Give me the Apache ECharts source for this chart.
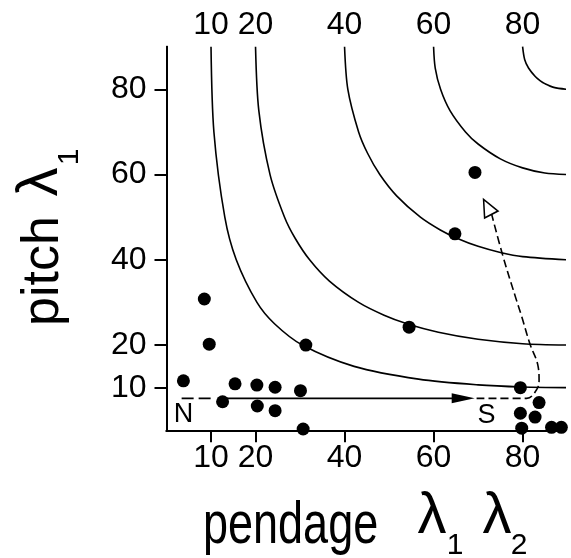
<!DOCTYPE html>
<html>
<head>
<meta charset="utf-8">
<script src="https://cdn.jsdelivr.net/npm/echarts@6/dist/echarts.min.js"></script>
<style>
html, body { margin: 0; padding: 0; background: #fff; }
#chart { width: 571px; height: 558px; }
</style>
</head>
<body>
<div id="chart"></div>
<script>
// tick values on both axes, and curve labels along the top
const tickValues = [10, 20, 40, 60, 80]
const topLabels = [10, 20, 40, 60, 80]

// contour curves [pendage, pitch], named by where they meet pitch = 90
const curve10 = [[10, 90], [10.65, 70], [13.1, 50], [15.67, 40], [20.32, 30], [24.26, 25], [30.51, 20], [42.14, 15], [56.63, 12], [70, 10.65], [80, 10.16], [90, 10]]
const curve20 = [[20, 90], [20.74, 75], [23.26, 60], [26.52, 50], [28.93, 45], [32.15, 40], [36.6, 35], [43.16, 30], [48.88, 27], [54.03, 25], [61.08, 23], [70, 21.35], [80, 20.32], [90, 20]]
const curve40 = [[40, 90], [40.74, 80], [43.16, 70], [45.17, 65], [47.92, 60], [51.7, 55], [57.04, 50], [61.51, 47], [65.38, 45], [70, 43.16], [75, 41.72], [80, 40.74], [90, 40]]
const curve60 = [[60, 90], [60.37, 85], [61.57, 80], [63.69, 75], [67.17, 70], [70, 67.17], [75, 63.69], [80, 61.57], [85, 60.37], [90, 60]]
const curve80 = [[80, 90], [80.46, 87], [81.33, 85], [82.84, 83], [83.98, 82], [85, 81.33], [87, 80.46], [90, 80]]

// measured stations
const pendage = [3.8, 8.5, 9.6, 12.6, 15.4, 20.3, 20.4, 24.4, 24.4, 30.1, 30.7, 31.3, 54.5, 64.8, 69.3, 79.5, 83.7, 79.5, 82.8, 79.8, 86.5, 88.7]
const pitch = [11.6, 30.8, 20.2, 6.7, 10.9, 10.6, 5.7, 10.1, 4.6, 9.3, 0.3, 20.0, 24.2, 46.1, 60.5, 10.0, 6.5, 4.0, 3.1, 0.5, 0.7, 0.7]

// N -> S trend and the dashed return path
const nsDashed = [[3.4, 7.5], [11, 7.5]]
const nsSolid = [[12.6, 7.5], [66, 7.5]]
const returnPath = [[69.66, 7.5], [80.9, 7.5], [83.1, 9.46], [83.7, 11.8], [83.5, 14.9], [81.6, 20.4], [79.8, 26.7], [78.6, 30.6], [75.6, 40.8], [73.0, 50.9]]
const solidHead = [66.65, 7.5]
const hollowHead = [72.1, 52.4]

const letters = ['N', 'S']
const letterPos = [[3.8, 3.8], [71.9, 3.4]]

const FONT = 'Liberation Sans, Arial, sans-serif'

const chart = echarts.init(document.getElementById('chart'))

const curveSeries = [curve10, curve20, curve40, curve60, curve80].map(c => ({
  type: 'line',
  data: c,
  smooth: 0.3,
  symbol: 'none',
  lineStyle: { color: '#000', width: 1.6, opacity: 1 },
  z: 2
}))

const option = {
  backgroundColor: '#fff',
  animation: false,
  grid: { left: 166.5, right: 7, top: 46.7, bottom: 127.7, outerBoundsMode: 'none', containLabel: false },
  xAxis: [
    {
      type: 'value', position: 'bottom', min: 0, max: 89.3,
      axisLine: { lineStyle: { color: '#000', width: 2 } },
      axisTick: { show: true, inside: false, length: 12, customValues: tickValues, lineStyle: { color: '#000', width: 2 } },
      axisLabel: { customValues: tickValues, fontSize: 32, color: '#000', fontFamily: FONT, margin: 12 },
      splitLine: { show: false }
    },
    {
      type: 'value', position: 'top', min: 0, max: 89.3,
      axisLine: { lineStyle: { color: '#000', width: 2 } },
      axisTick: { show: false },
      axisLabel: { customValues: topLabels, fontSize: 32, color: '#000', fontFamily: FONT, margin: 6 },
      splitLine: { show: false }
    }
  ],
  yAxis: [
    {
      type: 'value', position: 'left', min: 0, max: 90,
      axisLine: { lineStyle: { color: '#000', width: 2 } },
      axisTick: { show: true, inside: false, length: 12, customValues: tickValues, lineStyle: { color: '#000', width: 2 } },
      axisLabel: { customValues: tickValues, fontSize: 32, color: '#000', fontFamily: FONT, margin: 20 },
      splitLine: { show: false }
    },
    {
      type: 'value', position: 'right', min: 0, max: 90,
      axisLine: { show: true, lineStyle: { color: '#000', width: 2 } },
      axisTick: { show: false },
      axisLabel: { show: false },
      splitLine: { show: false }
    }
  ],
  series: [
    ...curveSeries,
    {
      type: 'line', data: nsDashed, symbol: 'none',
      lineStyle: { color: '#000', width: 1.6, type: [12, 5] }, z: 2
    },
    {
      type: 'line', data: nsSolid, symbol: 'none',
      lineStyle: { color: '#000', width: 1.6 }, z: 2
    },
    {
      type: 'line', data: returnPath, symbol: 'none', smooth: 0.4,
      lineStyle: { color: '#000', width: 1.6, type: [8, 4] }, z: 2
    },
    {
      type: 'scatter', data: [solidHead], symbol: 'triangle',
      symbolSize: [10, 23], symbolRotate: -90,
      itemStyle: { color: '#000', opacity: 1 }, z: 3
    },
    {
      type: 'scatter', data: [hollowHead], symbol: 'triangle',
      symbolSize: [15, 17], symbolRotate: 27,
      itemStyle: { color: '#fff', borderColor: '#000', borderWidth: 1.6, opacity: 1 }, z: 3
    },
    {
      type: 'scatter',
      data: pendage.map((x, i) => [x, pitch[i]]),
      symbolSize: 13,
      itemStyle: { color: '#000', opacity: 1 },
      z: 4
    },
    {
      type: 'scatter',
      data: letterPos.map((p, i) => ({ value: p, name: letters[i] })),
      symbolSize: 0,
      itemStyle: { opacity: 1 },
      label: {
        show: true, position: 'inside', formatter: '{b}',
        fontSize: 27, color: '#000', fontFamily: FONT
      },
      z: 4
    }
  ],
  graphic: [
    { type: 'text', x: 203, y: 526, scaleX: 0.75, style: { text: 'pendage', font: '60px ' + FONT, fill: '#000', textAlign: 'left', textVerticalAlign: 'middle' } },
    { type: 'text', x: 432, y: 517, style: { text: 'λ', font: '58px ' + FONT, fill: '#000', textAlign: 'center', textVerticalAlign: 'middle' } },
    { type: 'text', x: 455, y: 546, style: { text: '1', font: '30px ' + FONT, fill: '#000', textAlign: 'center', textVerticalAlign: 'middle' } },
    { type: 'text', x: 497, y: 517, style: { text: 'λ', font: '58px ' + FONT, fill: '#000', textAlign: 'center', textVerticalAlign: 'middle' } },
    { type: 'text', x: 519, y: 546, style: { text: '2', font: '30px ' + FONT, fill: '#000', textAlign: 'center', textVerticalAlign: 'middle' } },
    { type: 'text', x: 44, y: 271, rotation: Math.PI / 2, style: { text: 'pitch', font: '52px ' + FONT, fill: '#000', textAlign: 'center', textVerticalAlign: 'middle' } },
    { type: 'text', x: 41, y: 182, rotation: Math.PI / 2, style: { text: 'λ', font: '58px ' + FONT, fill: '#000', textAlign: 'center', textVerticalAlign: 'middle' } },
    { type: 'text', x: 70, y: 157, rotation: Math.PI / 2, style: { text: '1', font: '30px ' + FONT, fill: '#000', textAlign: 'center', textVerticalAlign: 'middle' } }
  ]
}

chart.setOption(option)
</script>
</body>
</html>
